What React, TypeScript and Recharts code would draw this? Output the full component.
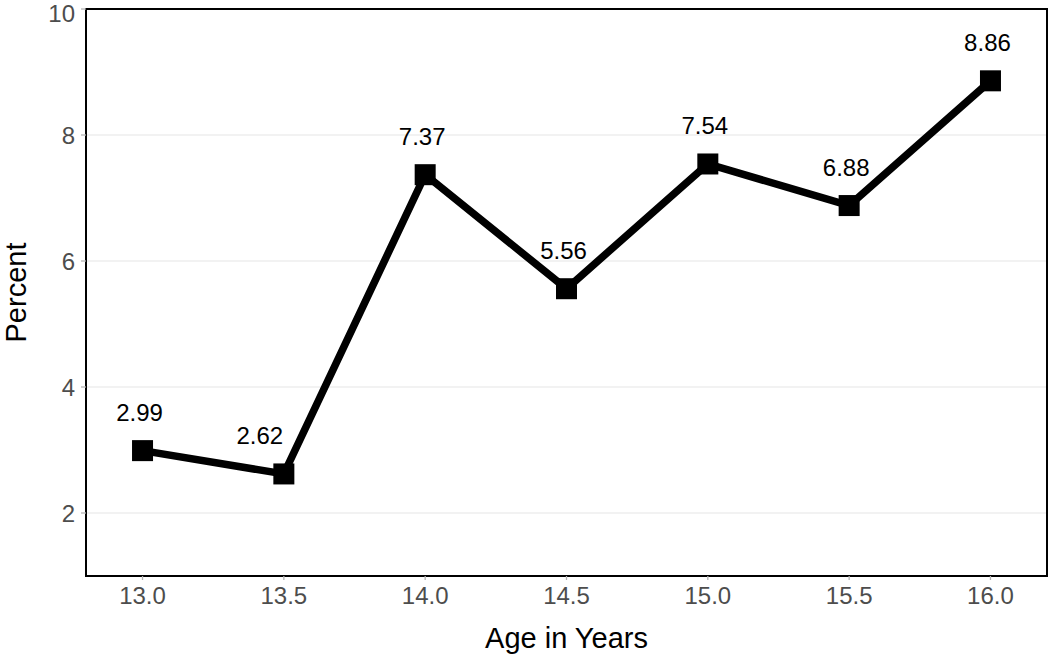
import { LineChart, Line, XAxis, YAxis, CartesianGrid, ReferenceArea, Label } from 'recharts';

const ages = [13.0, 13.5, 14.0, 14.5, 15.0, 15.5, 16.0];
const percents = [2.99, 2.62, 7.37, 5.56, 7.54, 6.88, 8.86];
const xTicks = [13.0, 13.5, 14.0, 14.5, 15.0, 15.5, 16.0];
const yTicks = [2, 4, 6, 8, 10];

const chartData = ages.map((age, i) => ({ age, percent: percents[i] }));

const FONT = '"Liberation Sans", Arial, sans-serif';

const SquareDot = (props: any) => {
  const { cx, cy } = props;
  if (cx == null || cy == null) return null;
  const s = 21;
  return <rect x={cx - s / 2} y={cy - s / 2} width={s} height={s} fill="#000" />;
};

// the 2.62 label sits left of its point, like in the source figure
const labelShift = (index: number) => (index === 1 ? -24 : -3);

const ValueLabel = (props: any) => {
  const { x, y, value, index } = props;
  return (
    <text
      x={x + labelShift(index)}
      y={y - 30}
      textAnchor="middle"
      fontSize={24}
      fontFamily={FONT}
      fill="#000"
    >
      {value.toFixed(2)}
    </text>
  );
};

const XTitle = (props: any) => {
  const { viewBox } = props;
  const cx = viewBox.x + viewBox.width / 2;
  return (
    <text x={cx} y={viewBox.y + 72} textAnchor="middle" fontSize={29} fontFamily={FONT} fill="#000">
      Age in Years
    </text>
  );
};

const YTitle = (props: any) => {
  const { viewBox } = props;
  const cy = viewBox.y + viewBox.height / 2;
  const x = viewBox.x + 26;
  return (
    <text
      x={x}
      y={cy}
      transform={`rotate(-90, ${x}, ${cy})`}
      textAnchor="middle"
      fontSize={29}
      fontFamily={FONT}
      fill="#000"
    >
      Percent
    </text>
  );
};

const App = () => {
  return (
    <div style={{ position: 'absolute', top: 0, left: 0, background: '#fff' }}>
      <LineChart
        width={1050}
        height={658}
        data={chartData}
        margin={{ top: 9, right: 3, left: 0, bottom: 0 }}
      >
        <CartesianGrid vertical={false} stroke="#e5e5e5" strokeWidth={1.2} />
        <XAxis
          dataKey="age"
          type="number"
          domain={[12.8, 16.2]}
          ticks={xTicks}
          tickFormatter={(v: number) => v.toFixed(1)}
          height={82}
          tickSize={4}
          tickMargin={7}
          axisLine={false}
          tickLine={{ stroke: '#b3b3b3', strokeWidth: 1.3 }}
          tick={{ fill: '#4d4d4d', fontSize: 24, fontFamily: FONT }}
        >
          <Label content={<XTitle />} />
        </XAxis>
        <YAxis
          type="number"
          domain={[1, 10]}
          ticks={yTicks}
          width={86}
          tickSize={5}
          tickMargin={6}
          axisLine={false}
          tickLine={{ stroke: '#b3b3b3', strokeWidth: 1.3 }}
          tick={{ fill: '#4d4d4d', fontSize: 24, fontFamily: FONT }}
        >
          <Label content={<YTitle />} />
        </YAxis>
        <ReferenceArea
          x1={12.8}
          x2={16.2}
          y1={1}
          y2={10}
          fill="none"
          stroke="#000"
          strokeWidth={2}
          fillOpacity={0}
        />
        <Line
          type="linear"
          dataKey="percent"
          stroke="#000"
          strokeWidth={7.5}
          dot={<SquareDot />}
          activeDot={false}
          label={<ValueLabel />}
          isAnimationActive={false}
        />
      </LineChart>
    </div>
  );
};

export default App;
